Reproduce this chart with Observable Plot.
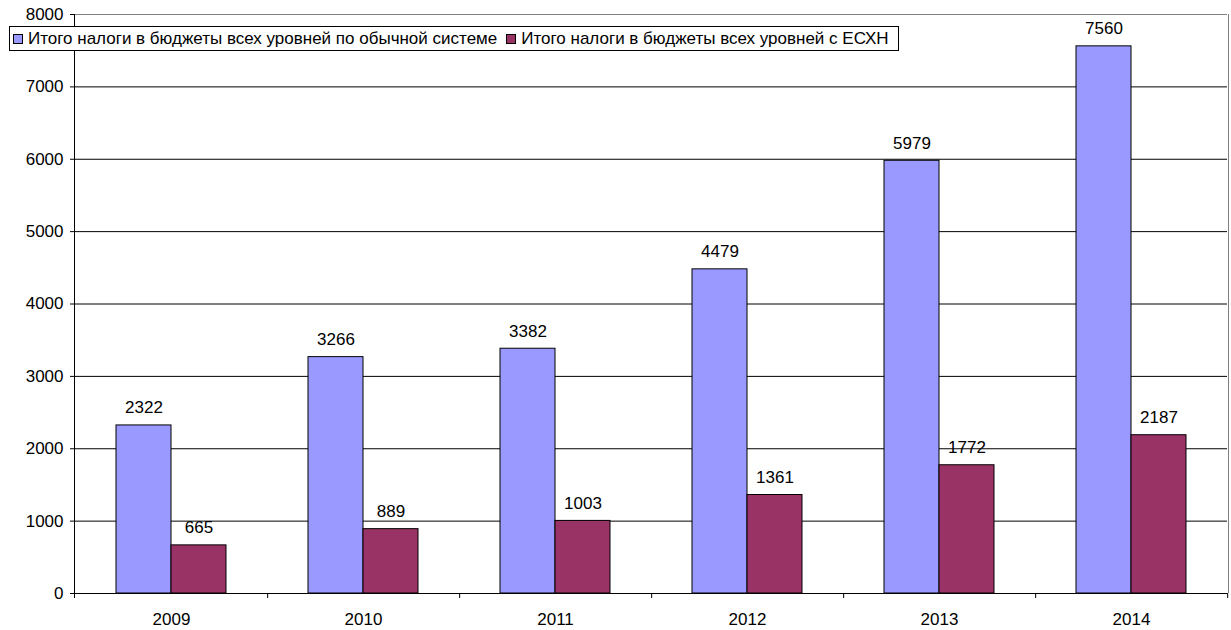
<!DOCTYPE html>
<html><head><meta charset="utf-8">
<script src="https://cdn.jsdelivr.net/npm/d3@7"></script>
<script src="https://cdn.jsdelivr.net/npm/@observablehq/plot@0.6"></script>
<style>
body{margin:0;background:#fff;}
#wrap{position:relative;width:1231px;height:630px;font-family:"Liberation Sans",Arial,sans-serif;}
#legend{position:absolute;left:9px;top:26px;height:23px;border:1px solid #000;background:#fff;display:flex;align-items:center;padding:0 9px 0 3px;font-size:17px;color:#000;white-space:nowrap;}
#legend .it{display:flex;align-items:center;margin-right:9px;}
#legend .it:last-child{margin-right:0;}
#legend .sw{display:inline-block;width:8px;height:8px;border:1px solid #000;margin-right:5px;}
</style></head>
<body><div id="wrap"></div>
<script>
const years = ["2009","2010","2011","2012","2013","2014"];
const regular = [2322,3266,3382,4479,5979,7560];
const eshn = [665,889,1003,1361,1772,2187];
const seriesNames = ["Итого налоги в бюджеты всех уровней по обычной системе","Итого налоги в бюджеты всех уровней с ЕСХН"];
const colors = ["#9999FF","#993366"];
const yTicks = [0,1000,2000,3000,4000,5000,6000,7000,8000];

const data = years.flatMap((y,i)=>[
  {year:y, series:seriesNames[0], value:regular[i]},
  {year:y, series:seriesNames[1], value:eshn[i]}
]);

const W=1231,H=630,mL=74,mR=3,mT=14,mB=37;
const halfBand = (W-mL-mR)/years.length/2;

const chart = Plot.plot({
  width:W, height:H, marginTop:mT, marginBottom:mB, marginLeft:mL, marginRight:mR,
  style:{fontFamily:'"Liberation Sans",Arial,sans-serif',fontSize:"17px",background:"white",color:"black",overflow:"visible"},
  fx:{domain:years, padding:0, label:null, axis:null},
  x:{domain:seriesNames, paddingInner:0, paddingOuter:0.717, axis:null},
  y:{domain:[0,8000], axis:null},
  color:{domain:seriesNames, range:colors},
  marks:[
    Plot.ruleY(yTicks.filter(d=>d>0&&d<8000),{stroke:"#000",strokeWidth:1}),
    Plot.ruleY([8000],{stroke:"#808080",strokeWidth:1}),
    Plot.barY(data,{fx:"year",x:"series",y:"value",fill:"series",stroke:"#000",strokeWidth:1}),
    Plot.text(data,{fx:"year",x:"series",y:"value",text:d=>String(d.value),dy:-12,lineAnchor:"bottom",fontSize:17,fill:"#000"}),
    Plot.ruleY([0],{stroke:"#000",strokeWidth:1}),
    Plot.axisY({ticks:yTicks,tickSize:5,tickPadding:7,label:null,fontSize:17,tickFormat:d=>String(d)}),
    Plot.axisFx({domain:years,anchor:"bottom",tickSize:0,tickPadding:19,label:null,fontSize:17}),
    Plot.axisFx({domain:years,anchor:"bottom",tickSize:5,tickFormat:()=>"",label:null,dx:halfBand})
  ]
});
document.getElementById("wrap").appendChild(chart);

const y = chart.scale("y");
const svg = d3.select(chart);
svg.append("line").attr("x1",mL+0.5).attr("x2",mL+0.5).attr("y1",y.apply(8000)).attr("y2",y.apply(0)+5).attr("stroke","#000");
svg.append("line").attr("x1",W-mR+0.5).attr("x2",W-mR+0.5).attr("y1",y.apply(8000)).attr("y2",y.apply(0)).attr("stroke","#808080");

const lg = d3.select("#wrap").append("div").attr("id","legend");
seriesNames.forEach((s,i)=>{
  const it = lg.append("div").attr("class","it");
  it.append("span").attr("class","sw").style("background",colors[i]);
  it.append("span").text(s);
});
</script></body></html>
